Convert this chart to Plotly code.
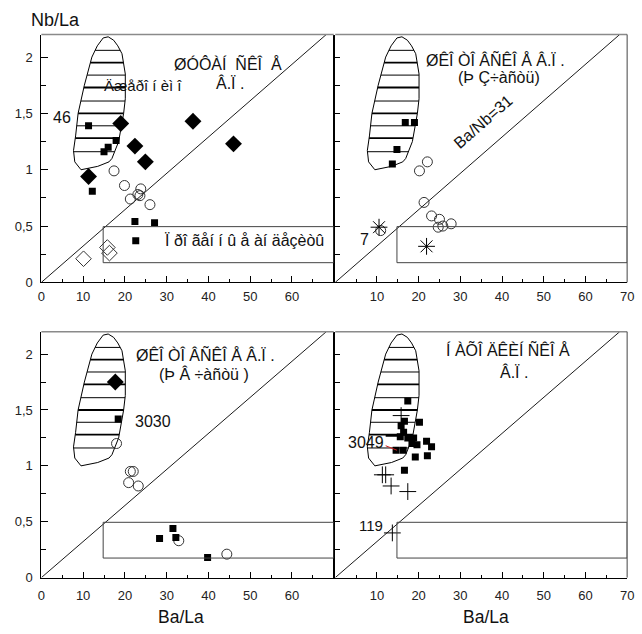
import plotly.graph_objects as go

FONT = "Arial, 'Liberation Sans', sans-serif"
X_RANGE = [0, 70]
Y_RANGE = [0, 2.2]
BA_NB = 31  # reference line Ba/Nb = 31  ->  Nb/La = (Ba/La)/31

# Outline of the "Geronimo" field (Ba/La, Nb/La)
FIELD_X = [16.0, 17.3, 18.3, 19.3, 20.1, 20.1, 19.7, 19.0, 18.5, 16.9, 16.2, 13.5, 9.5, 8.0, 7.7, 8.2, 8.8, 10.3, 12.1, 13.4, 14.8, 16.0]
FIELD_Y = [2.18, 2.15, 2.10, 2.03, 1.85, 1.63, 1.50, 1.37, 1.25, 1.10, 1.07, 1.03, 1.00, 1.07, 1.17, 1.30, 1.50, 1.75, 2.00, 2.10, 2.17, 2.18]
HATCH_Y = [2.06, 1.95, 1.84, 1.73, 1.61, 1.50, 1.39, 1.28, 1.16]
RECT_X = [14.8, 70]
RECT_Y = [0.175, 0.495]

X_TICKS_LEFT = [0, 10, 20, 30, 40, 50, 60]
X_TICKS_RIGHT = [10, 20, 30, 40, 50, 60, 70]
Y_TICKS = [0, 0.5, 1, 1.5, 2]
Y_TICK_TEXT = ["0", "0,5", "1", "1,5", "2"]

# Panel 1 (top left)
P1_SQ_X = [11.3, 17.9, 16.0, 15.0, 12.2, 22.4, 27.1, 22.6]
P1_SQ_Y = [1.39, 1.26, 1.20, 1.16, 0.81, 0.54, 0.53, 0.37]
P1_DM_X = [19.0, 36.3, 22.4, 24.9, 46.0, 11.3]
P1_DM_Y = [1.41, 1.43, 1.21, 1.07, 1.23, 0.94]
P1_CI_X = [17.4, 19.9, 21.3, 23.8, 23.6, 23.1, 26.0]
P1_CI_Y = [0.99, 0.86, 0.74, 0.83, 0.77, 0.78, 0.69]
P1_OD_X = [10.1, 15.8, 16.3]
P1_OD_Y = [0.21, 0.31, 0.26]

# Panel 2 (top right)
P2_SQ_X = [16.8, 19.0, 14.8, 13.7]
P2_SQ_Y = [1.42, 1.42, 1.18, 1.05]
P2_CI_X = [20.2, 22.1, 21.3, 23.1, 25.0, 24.7, 25.8, 27.8, 10.9]
P2_CI_Y = [0.99, 1.07, 0.71, 0.59, 0.56, 0.49, 0.50, 0.52, 0.46]
P2_AS_X = [10.5, 21.9]
P2_AS_Y = [0.49, 0.32]

# Panel 3 (bottom left)
P3_DM_X = [17.7]
P3_DM_Y = [1.75]
P3_SQ_X = [18.4, 28.3, 31.5, 32.2, 39.8]
P3_SQ_Y = [1.42, 0.35, 0.44, 0.36, 0.18]
P3_CI_X = [18.0, 21.3, 22.0, 20.9, 23.2, 32.9, 44.4]
P3_CI_Y = [1.20, 0.95, 0.95, 0.85, 0.82, 0.33, 0.21]

# Panel 4 (bottom right)
P4_SQ_X = [17.4, 20.2, 16.6, 15.8, 16.4, 15.6, 17.4, 18.8, 18.4, 19.6, 21.9, 23.1, 16.3, 14.6, 19.2, 22.1, 16.6]
P4_SQ_Y = [1.58, 1.39, 1.40, 1.36, 1.30, 1.26, 1.25, 1.25, 1.20, 1.19, 1.22, 1.17, 1.14, 1.14, 1.08, 1.09, 0.96]
P4_PL_X = [15.8, 11.3, 12.1, 13.4, 17.4, 13.7]
P4_PL_Y = [1.45, 0.92, 0.92, 0.82, 0.77, 0.40]

fig = go.Figure()

axes = [("x", "y"), ("x2", "y2"), ("x3", "y3"), ("x4", "y4")]


def hatch_segments(levels):
    xs, ys = [], []
    n = len(FIELD_X)
    for yl in levels:
        pts = []
        for i in range(n - 1):
            x1, y1, x2, y2 = FIELD_X[i], FIELD_Y[i], FIELD_X[i + 1], FIELD_Y[i + 1]
            if (y1 - yl) * (y2 - yl) <= 0 and y1 != y2:
                t = (yl - y1) / (y2 - y1)
                pts.append(x1 + t * (x2 - x1))
        if len(pts) >= 2:
            xs += [min(pts), max(pts), None]
            ys += [yl, yl, None]
    return xs, ys


thick_x, thick_y = hatch_segments(HATCH_Y[1::2])
thin_x, thin_y = hatch_segments(HATCH_Y[0::2])
line_end = Y_RANGE[1] * BA_NB

for xa, ya in axes:
    fig.add_trace(go.Scatter(x=FIELD_X, y=FIELD_Y, mode="lines", xaxis=xa, yaxis=ya,
                             line=dict(color="black", width=1), hoverinfo="skip"))
    fig.add_trace(go.Scatter(x=thin_x, y=thin_y, mode="lines", xaxis=xa, yaxis=ya,
                             line=dict(color="black", width=1), hoverinfo="skip"))
    fig.add_trace(go.Scatter(x=thick_x, y=thick_y, mode="lines", xaxis=xa, yaxis=ya,
                             line=dict(color="black", width=1.8), hoverinfo="skip"))
    fig.add_trace(go.Scatter(x=[0, line_end], y=[0, line_end / BA_NB], mode="lines", xaxis=xa, yaxis=ya,
                             line=dict(color="black", width=0.9), hoverinfo="skip"))


def pts(x, y, xa, ya, symbol, size, color="black", lw=1, fill="black"):
    fig.add_trace(go.Scatter(x=x, y=y, mode="markers", xaxis=xa, yaxis=ya,
                             marker=dict(symbol=symbol, size=size, color=fill,
                                         line=dict(color=color, width=lw))))


# panel 1
pts(P1_CI_X, P1_CI_Y, "x", "y", "circle-open", 10, lw=1, fill="#333")
pts(P1_OD_X, P1_OD_Y, "x", "y", "diamond-open", 12, lw=1, fill="#333")
pts(P1_SQ_X, P1_SQ_Y, "x", "y", "square", 7, lw=0)
pts(P1_DM_X, P1_DM_Y, "x", "y", "diamond", 13, lw=0)
# panel 2
pts(P2_CI_X, P2_CI_Y, "x2", "y2", "circle-open", 10, fill="#333")
pts(P2_SQ_X, P2_SQ_Y, "x2", "y2", "square", 7, lw=0)
pts(P2_AS_X, P2_AS_Y, "x2", "y2", "asterisk-open", 14, lw=1, fill="black")
# panel 3
pts(P3_CI_X, P3_CI_Y, "x3", "y3", "circle-open", 10, fill="#333")
pts(P3_SQ_X, P3_SQ_Y, "x3", "y3", "square", 7, lw=0)
pts(P3_DM_X, P3_DM_Y, "x3", "y3", "diamond", 13, lw=0)
# panel 4
pts(P4_SQ_X, P4_SQ_Y, "x4", "y4", "square", 7, lw=0)
pts(P4_PL_X, P4_PL_Y, "x4", "y4", "cross-thin-open", 12, lw=1, fill="black")
# small leader marks near sample 3049
fig.add_trace(go.Scatter(x=[12.1, 15.6], y=[1.27, 1.27], mode="lines", xaxis="x4", yaxis="y4",
                         line=dict(color="black", width=2), hoverinfo="skip"))
fig.add_trace(go.Scatter(x=[12.1, 14.8], y=[1.18, 1.14], mode="lines", xaxis="x4", yaxis="y4",
                         line=dict(color="#d02020", width=1), hoverinfo="skip"))

XD_L = [38 / 642, 335.5 / 642]
XD_R = [337 / 642, 634 / 642]
YD_T = [1 - 286 / 634, 1 - 35 / 634]
YD_B = [1 - 585 / 634, 1 - 336 / 634]

tickfont = dict(family=FONT, size=13, color="#222")


def xaxis(dom, anchor, ticks, standoff):
    return dict(domain=dom, anchor=anchor, range=X_RANGE, showgrid=False, zeroline=False,
                showline=True, linecolor="black", linewidth=1,
                ticks="inside", ticklen=6, tickwidth=1, tickcolor="black",
                tickvals=ticks, ticktext=[str(t) for t in ticks], tickfont=tickfont,
                ticklabelstandoff=standoff,
                minor=dict(ticks="inside", ticklen=3, tickcolor="black", dtick=5, tick0=0, showgrid=False))


def yaxis(dom, anchor, labels, lw):
    return dict(domain=dom, anchor=anchor, range=Y_RANGE, showgrid=False, zeroline=False,
                showline=True, linecolor="black", linewidth=lw,
                ticks="inside", ticklen=7, tickwidth=1, tickcolor="black",
                tickvals=Y_TICKS, ticktext=Y_TICK_TEXT if labels else [""] * len(Y_TICKS),
                showticklabels=labels, tickfont=tickfont, ticklabelstandoff=5,
                minor=dict(ticks="inside", ticklen=5, tickcolor="black", dtick=0.25, tick0=0, showgrid=False))


shapes = []
for xa, ya, right in [("x", "y", False), ("x2", "y2", True), ("x3", "y3", False), ("x4", "y4", True)]:
    shapes.append(dict(type="rect", xref=xa, yref=ya, x0=RECT_X[0], x1=RECT_X[1], y0=RECT_Y[0], y1=RECT_Y[1],
                       line=dict(color="#444", width=1)))
    shapes.append(dict(type="line", xref=xa + " domain", yref=ya + " domain", x0=0, x1=1, y0=1, y1=1,
                       line=dict(color="#8a8a8a", width=1.5)))
    if right:
        shapes.append(dict(type="line", xref=xa + " domain", yref=ya + " domain", x0=1, x1=1, y0=0, y1=1,
                           line=dict(color="#444", width=1)))


def ann(text, xa, ya, x, y, size=16, xanchor="center", angle=0):
    return dict(text=text, xref=xa, yref=ya, x=x, y=y, showarrow=False, xanchor=xanchor, yanchor="middle",
                textangle=angle, font=dict(family=FONT, size=size, color="#111"))


annotations = [
    ann("ØÓÔÀÍ  ÑÊÎ  Å", "x", "y", 44.6, 1.94),
    ann("Â.Ï .", "x", "y", 45.2, 1.77),
    ann("Äæåðî í èì î", "x", "y", 14.5, 1.745, size=15, xanchor="left"),
    ann("46", "x", "y", 5.0, 1.46),
    ann("Ï ðî ãåí í û å àí äåçèòû", "x", "y", 48.7, 0.37),
    ann("ØÊÎ ÒÎ ÂÑÊÎ Å Â.Ï .", "x2", "y2", 38.4, 1.98),
    ann("(Þ Ç÷àñòü)", "x2", "y2", 39.3, 1.82),
    ann("Ba/Nb=31", "x2", "y2", 35.5, 1.43, angle=-41),
    ann("7", "x2", "y2", 7.0, 0.38),
    ann("ØÊÎ ÒÎ ÂÑÊÎ Å Â.Ï .", "x3", "y3", 39.3, 2.0),
    ann("(Þ Â ÷àñòü )", "x3", "y3", 39.0, 1.82),
    ann("3030", "x3", "y3", 26.8, 1.40),
    ann("Í ÀÕÎ ÄÊÈÍ ÑÊÎ Å", "x4", "y4", 41.5, 2.04),
    ann("Â.Ï .", "x4", "y4", 42.9, 1.84),
    ann("3049", "x4", "y4", 7.3, 1.21),
    ann("119", "x4", "y4", 8.5, 0.47, size=15),
    dict(text="Nb/La", xref="paper", yref="paper", x=25 / 642, y=1 - 20 / 634, xanchor="left", yanchor="middle",
         showarrow=False, font=dict(family=FONT, size=18, color="#111")),
    dict(text="Ba/La", xref="paper", yref="paper", x=180 / 642, y=1 - 625 / 634, xanchor="center", yanchor="middle",
         showarrow=False, font=dict(family=FONT, size=17.5, color="#111")),
    dict(text="Ba/La", xref="paper", yref="paper", x=490 / 642, y=1 - 625 / 634, xanchor="center", yanchor="middle",
         showarrow=False, font=dict(family=FONT, size=17.5, color="#111")),
]

fig.update_layout(
    width=642, height=634, margin=dict(l=0, r=0, t=0, b=0),
    paper_bgcolor="white", plot_bgcolor="white", showlegend=False,
    xaxis=xaxis(XD_L, "y", X_TICKS_LEFT, 2), yaxis=yaxis(YD_T, "x", True, 1),
    xaxis2=xaxis(XD_R, "y2", X_TICKS_RIGHT, 2), yaxis2=yaxis(YD_T, "x2", False, 2),
    xaxis3=xaxis(XD_L, "y3", X_TICKS_LEFT, 6), yaxis3=yaxis(YD_B, "x3", True, 1),
    xaxis4=xaxis(XD_R, "y4", X_TICKS_RIGHT, 6), yaxis4=yaxis(YD_B, "x4", False, 2),
    shapes=shapes, annotations=annotations,
)

fig.write_html("out.html")
